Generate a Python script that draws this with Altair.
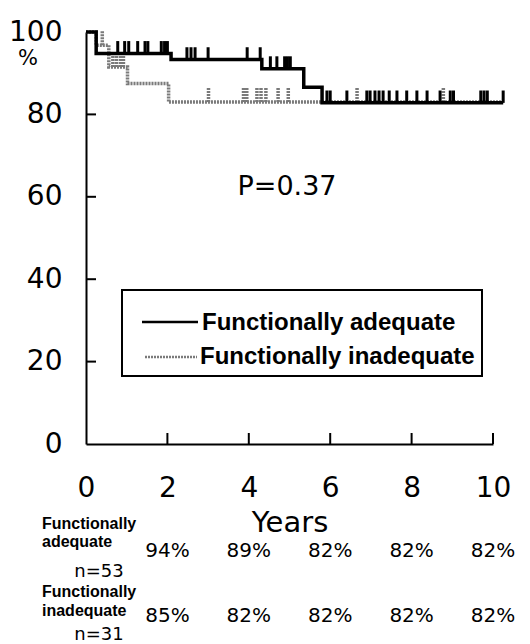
import altair as alt
import pandas as pd

# ---- data ----
adeq_t = [0, 0.25, 2.09, 4.32, 5.35, 5.8, 10.25]
adeq_s = [100, 94.8, 93.3, 91.1, 86.6, 82.8, 82.8]
inad_t = [0, 0.25, 0.56, 1.02, 2.03, 10.25]
inad_s = [100, 96.8, 91.5, 87.5, 83.0, 83.0]

adeq_cens = [0.78, 0.95, 1.05, 1.27, 1.45, 1.52, 1.85, 1.93, 2.0, 2.48, 2.58, 2.68,
             3.0, 3.96, 4.28, 4.53, 4.69, 4.88, 4.95, 5.02, 5.92, 6.0, 6.41, 6.9,
             6.98, 7.1, 7.2, 7.3, 7.45, 7.64, 7.88, 8.13, 8.38, 8.7, 8.95, 9.03,
             9.7, 9.78, 9.86, 10.25]
inad_cens = [0.4, 0.66, 0.75, 0.85, 0.92, 3.01, 3.87, 3.95, 4.2, 4.3, 4.42, 4.72,
             4.97, 6.66, 8.78]

x_ticks = [2, 4, 6, 8, 10]
y_ticks = [20, 40, 60, 80]
table_years = [2, 4, 6, 8, 10]
adeq_pct = ["94%", "89%", "82%", "82%", "82%"]
inad_pct = ["85%", "82%", "82%", "82%", "82%"]
legend_labels = ["Functionally adequate", "Functionally inadequate"]
p_text = ["P=0.37"]


def level(ts, ss, t):
    v = ss[0]
    for ti, si in zip(ts, ss):
        if ti <= t:
            v = si
    return v


adeq_df = pd.DataFrame({"t": adeq_t, "s": adeq_s})
inad_df = pd.DataFrame({"t": inad_t, "s": inad_s})
adeq_c = pd.DataFrame({"t": adeq_cens,
                       "lo": [level(adeq_t, adeq_s, t) for t in adeq_cens]})
adeq_c["hi"] = adeq_c["lo"] + 3.0
inad_c = pd.DataFrame({"t": inad_cens,
                       "lo": [level(inad_t, inad_s, t) for t in inad_cens]})
inad_c["hi"] = inad_c["lo"] + 3.6

xs = alt.Scale(domain=[0, 10], nice=False, zero=False)
ys = alt.Scale(domain=[0, 100], nice=False)

GRAY = "#7a7a7a"
FONT = "DejaVu Sans"
BOLD = "Liberation Sans"

x_axis = alt.Axis(values=[0, 2, 4, 6, 8, 10], labelFont=FONT, labelFontSize=28,
                  labelColor="black", labelPadding=30, ticks=False, tickSize=0,
                  domainColor="black", domainWidth=2, grid=False, title="Years",
                  titleFont=FONT, titleFontSize=29, titleFontWeight="normal",
                  titleColor="black", titlePadding=6, labelFlush=False)
y_axis = alt.Axis(values=[0, 20, 40, 60, 80, 100], labelFont=FONT, labelFontSize=28,
                  labelColor="black", labelPadding=24, ticks=False, tickSize=0,
                  domainColor="black", domainWidth=2, grid=False, title=None)

inad_line = alt.Chart(inad_df).mark_line(
    interpolate="step-after", color=GRAY, strokeWidth=3.5, strokeDash=[2, 1]
).encode(x=alt.X("t:Q", scale=xs, axis=x_axis), y=alt.Y("s:Q", scale=ys, axis=y_axis))

inad_ticks = alt.Chart(inad_c).mark_rule(color=GRAY, strokeWidth=3.5, strokeDash=[2, 1]).encode(
    x=alt.X("t:Q", scale=xs), y=alt.Y("lo:Q", scale=ys), y2="hi:Q")

adeq_line = alt.Chart(adeq_df).mark_line(
    interpolate="step-after", color="black", strokeWidth=3.5
).encode(x=alt.X("t:Q", scale=xs), y=alt.Y("s:Q", scale=ys))

adeq_ticks = alt.Chart(adeq_c).mark_rule(color="black", strokeWidth=3).encode(
    x=alt.X("t:Q", scale=xs), y=alt.Y("lo:Q", scale=ys), y2="hi:Q")

# inward axis ticks
xt = alt.Chart(pd.DataFrame({"v": x_ticks})).mark_rule(color="black", strokeWidth=2).encode(
    x=alt.X("v:Q", scale=xs), y=alt.value(412), y2=alt.value(401))
yt = alt.Chart(pd.DataFrame({"v": y_ticks})).mark_rule(color="black", strokeWidth=2).encode(
    y=alt.Y("v:Q", scale=ys), x=alt.value(0), x2=alt.value(10))

one = pd.DataFrame({"a": [0]})

pct_sign = alt.Chart(one).mark_text(text="%", font=FONT, fontSize=21, color="black",
                                    align="center", baseline="middle").encode(
    x=alt.value(-58), y=alt.value(27))

ptxt = alt.Chart(pd.DataFrame({"p": p_text})).mark_text(
    font=FONT, fontSize=27, color="black", align="center", baseline="alphabetic").encode(
    text="p:N", x=alt.value(201), y=alt.value(163))

# legend box
leg_box = alt.Chart(one).mark_rect(fill="white", stroke="black", strokeWidth=2).encode(
    x=alt.value(36), x2=alt.value(396), y=alt.value(258), y2=alt.value(344))
leg_l1 = alt.Chart(one).mark_rule(color="black", strokeWidth=2.5).encode(
    x=alt.value(56), x2=alt.value(112), y=alt.value(290))
leg_l2 = alt.Chart(one).mark_rule(color=GRAY, strokeWidth=2.5, strokeDash=[2, 1]).encode(
    x=alt.value(59), x2=alt.value(111), y=alt.value(325))
leg_t1 = alt.Chart(pd.DataFrame({"l": [legend_labels[0]]})).mark_text(
    font=BOLD, fontWeight="bold", fontSize=24, color="black", align="left",
    baseline="middle").encode(text="l:N", x=alt.value(116), y=alt.value(291))
leg_t2 = alt.Chart(pd.DataFrame({"l": [legend_labels[1]]})).mark_text(
    font=BOLD, fontWeight="bold", fontSize=24, color="black", align="left",
    baseline="middle").encode(text="l:N", x=alt.value(114), y=alt.value(325))

# table below axis
def row_label(txt, ypix, bold=True):
    if bold:
        m = alt.Chart(pd.DataFrame({"l": [txt]})).mark_text(
            font=BOLD, fontWeight="bold", fontSize=16, color="black", align="left",
            baseline="alphabetic")
        xv = -44
    else:
        m = alt.Chart(pd.DataFrame({"l": [txt]})).mark_text(
            font=FONT, fontSize=18, color="black", align="center", baseline="alphabetic")
        xv = 13
    return m.encode(text="l:N", x=alt.value(xv), y=alt.value(ypix))

rows = [
    row_label("Functionally", 497),
    row_label("adequate", 515),
    row_label("n=53", 545, bold=False),
    row_label("Functionally", 565),
    row_label("inadequate", 584),
    row_label("n=31", 608, bold=False),
]

pct1 = alt.Chart(pd.DataFrame({"yr": table_years, "p": adeq_pct})).mark_text(
    font=FONT, fontSize=20, color="black", align="center", baseline="alphabetic").encode(
    x=alt.X("yr:Q", scale=xs), y=alt.value(525), text="p:N")
pct2 = alt.Chart(pd.DataFrame({"yr": table_years, "p": inad_pct})).mark_text(
    font=FONT, fontSize=20, color="black", align="center", baseline="alphabetic").encode(
    x=alt.X("yr:Q", scale=xs), y=alt.value(590), text="p:N")

chart = alt.layer(
    inad_line, inad_ticks, adeq_line, adeq_ticks, xt, yt, pct_sign, ptxt,
    leg_box, leg_l1, leg_l2, leg_t1, leg_t2, *rows, pct1, pct2
).properties(
    width=407, height=412,
    autosize="none",
    padding={"left": 86, "top": 32, "right": 37, "bottom": 200},
    background="white",
).configure_view(stroke=None)

chart.save("out.html", embed_options={"renderer": "svg", "actions": False})
